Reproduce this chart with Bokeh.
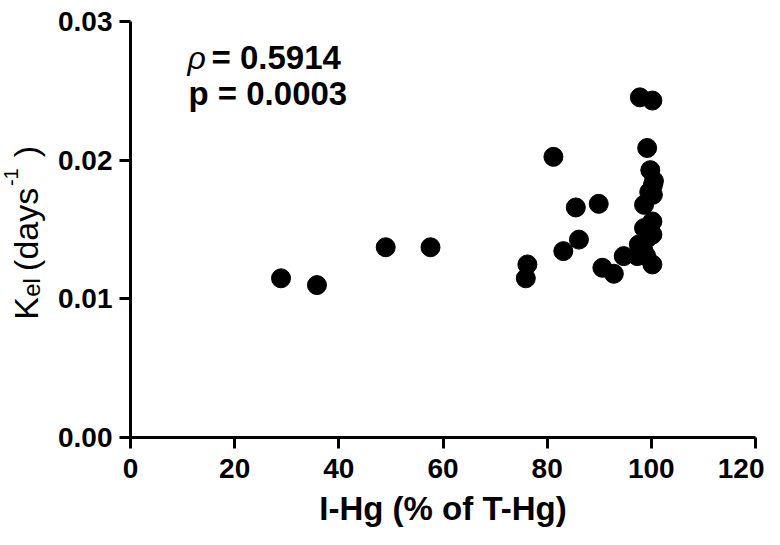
import math
from bokeh.plotting import figure
from bokeh.layouts import row
from bokeh.models import Range1d, FixedTicker, PrintfTickFormatter, Label
from bokeh.embed import file_html
from bokeh.resources import INLINE

# Data (I-Hg % of T-Hg vs Kel, days^-1)
ihg = [28.9, 35.8, 49.0, 57.6, 75.9, 76.2, 81.2, 83.1, 85.5, 86.1, 89.9, 90.6,
       92.8, 94.7, 97.3, 97.6, 97.8, 100.2, 99.2, 99.8, 100.3, 100.3, 98.6,
       100.2, 98.6, 100.2, 100.2, 99.3, 99.6, 100.5, 98.4, 99.0]
kel = [0.01148, 0.01099, 0.01372, 0.01372, 0.01148, 0.01248, 0.02024, 0.01344,
       0.01659, 0.01427, 0.01685, 0.01224, 0.01181, 0.01308, 0.01308, 0.01392,
       0.02453, 0.02430, 0.02088, 0.01928, 0.01820, 0.01750, 0.01678, 0.01558,
       0.01510, 0.01463, 0.01248, 0.01440, 0.01770, 0.01850, 0.01360, 0.01310]

x_ticks = [0, 20, 40, 60, 80, 100, 120]
y_ticks = [0.0, 0.01, 0.02, 0.03]

FONT = "Liberation Sans"
H = 529
TW = 48          # width of the strip holding the rotated y title
W = 764 - TW     # main chart width
TOP, BOT = 21, 91

# ---- main chart ----
p = figure(width=W, height=H, output_backend="svg", toolbar_location=None,
           x_range=Range1d(0, 120), y_range=Range1d(0, 0.03),
           min_border_left=130 - TW, min_border_right=9, min_border_top=TOP,
           min_border_bottom=BOT)
p.outline_line_color = None
p.grid.visible = False
p.background_fill_color = "white"
p.border_fill_color = "white"

p.scatter(ihg, kel, size=19, color="black")

for ax in (p.xaxis[0], p.yaxis[0]):
    ax.axis_line_width = 3
    ax.axis_line_color = "black"
    ax.major_tick_line_width = 3
    ax.major_tick_line_color = "black"
    ax.major_tick_out = 11
    ax.major_tick_in = 0
    ax.minor_tick_line_color = None
    ax.major_label_text_font = FONT
    ax.major_label_text_font_style = "bold"
    ax.major_label_text_font_size = "28px"
    ax.major_label_text_color = "black"
    ax.major_label_standoff = 7

p.xaxis[0].major_label_standoff = 10
p.xaxis[0].ticker = FixedTicker(ticks=x_ticks)
p.yaxis[0].ticker = FixedTicker(ticks=y_ticks)
p.yaxis[0].formatter = PrintfTickFormatter(format="%.2f")

p.xaxis[0].axis_label = "I-Hg (% of T-Hg)"
p.xaxis[0].axis_label_text_font = FONT
p.xaxis[0].axis_label_text_font_style = "bold"
p.xaxis[0].axis_label_text_font_size = "33px"
p.xaxis[0].axis_label_text_color = "black"
p.xaxis[0].axis_label_standoff = 9


def stat(text, X, Y, size, style):
    p.add_layout(Label(x=X - TW, y=Y, x_units="canvas", y_units="canvas",
                       text=text, text_font=FONT,
                       text_font_size=f"{size}px", text_font_style=style,
                       text_color="black", text_align="left",
                       text_baseline="alphabetic"))


# statistics annotation
stat("\u03c1", 187, 57, 32, "italic")
stat("= 0.5914", 211, 57, 33, "bold")
stat("p = 0.0003", 188, 93, 33, "bold")

# ---- strip with the rotated y-axis title: K_el (days^-1) ----
# its frame is aligned with the main frame (rows align plot frames)
t = figure(width=TW, height=H, output_backend="svg", toolbar_location=None,
           x_range=Range1d(0, TW), y_range=Range1d(H - BOT, TOP),
           x_axis_type=None, y_axis_type=None,
           min_border_left=0, min_border_right=0, min_border_top=TOP,
           min_border_bottom=BOT)
t.outline_line_color = None
t.grid.visible = False
t.background_fill_color = "white"
t.border_fill_color = "white"

A = math.pi / 2


def ylab(text, X, Y, size):
    t.add_layout(Label(x=X, y=Y, text=text, text_font=FONT,
                       text_font_size=f"{size}px", text_color="black",
                       angle=A, text_align="left",
                       text_baseline="alphabetic"))


ylab("K", 25, 320, 34)
ylab("el", 31, 297, 24)
ylab("(days", 25, 271, 34)
ylab("-1", 10, 186, 20)
ylab(")", 25, 157, 34)

layout = row(t, p, spacing=0)
open("out.html", "w").write(file_html(layout, INLINE))
